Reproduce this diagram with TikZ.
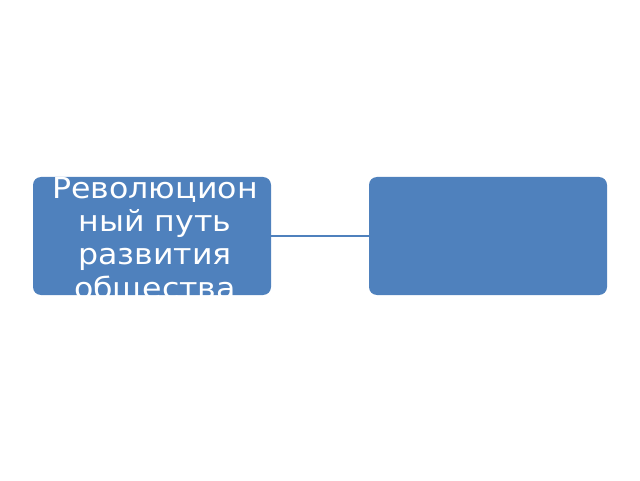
\documentclass[tikz,border=0pt]{standalone}
\usepackage{fontspec}
\setmainfont{DejaVu Sans}[FakeStretch=1.09]
\definecolor{boxblue}{HTML}{4F81BD}
\begin{document}
\begin{tikzpicture}[x=1pt,y=1pt,
  blk/.style={draw=none,fill=boxblue,rounded corners=8pt,minimum width=238pt,minimum height=118pt,inner sep=0pt},
  lbl/.style={text=white,align=center,inner sep=0pt,font=\fontsize{29}{33.3}\selectfont}]
\useasboundingbox (0,0) rectangle (640,480);
\node[blk] (L) at (152,244) {};
\node[blk] (R) at (488,244) {};
\draw[boxblue,line width=2.2pt] (L.east) -- (R.west);
\begin{scope}
\clip[rounded corners=8pt] (L.south west) rectangle (L.north east);
\node[lbl] (t) at (155,240.5) {Революцион\\ный путь\\развития\\общества};
\end{scope}
\end{tikzpicture}
\end{document}
